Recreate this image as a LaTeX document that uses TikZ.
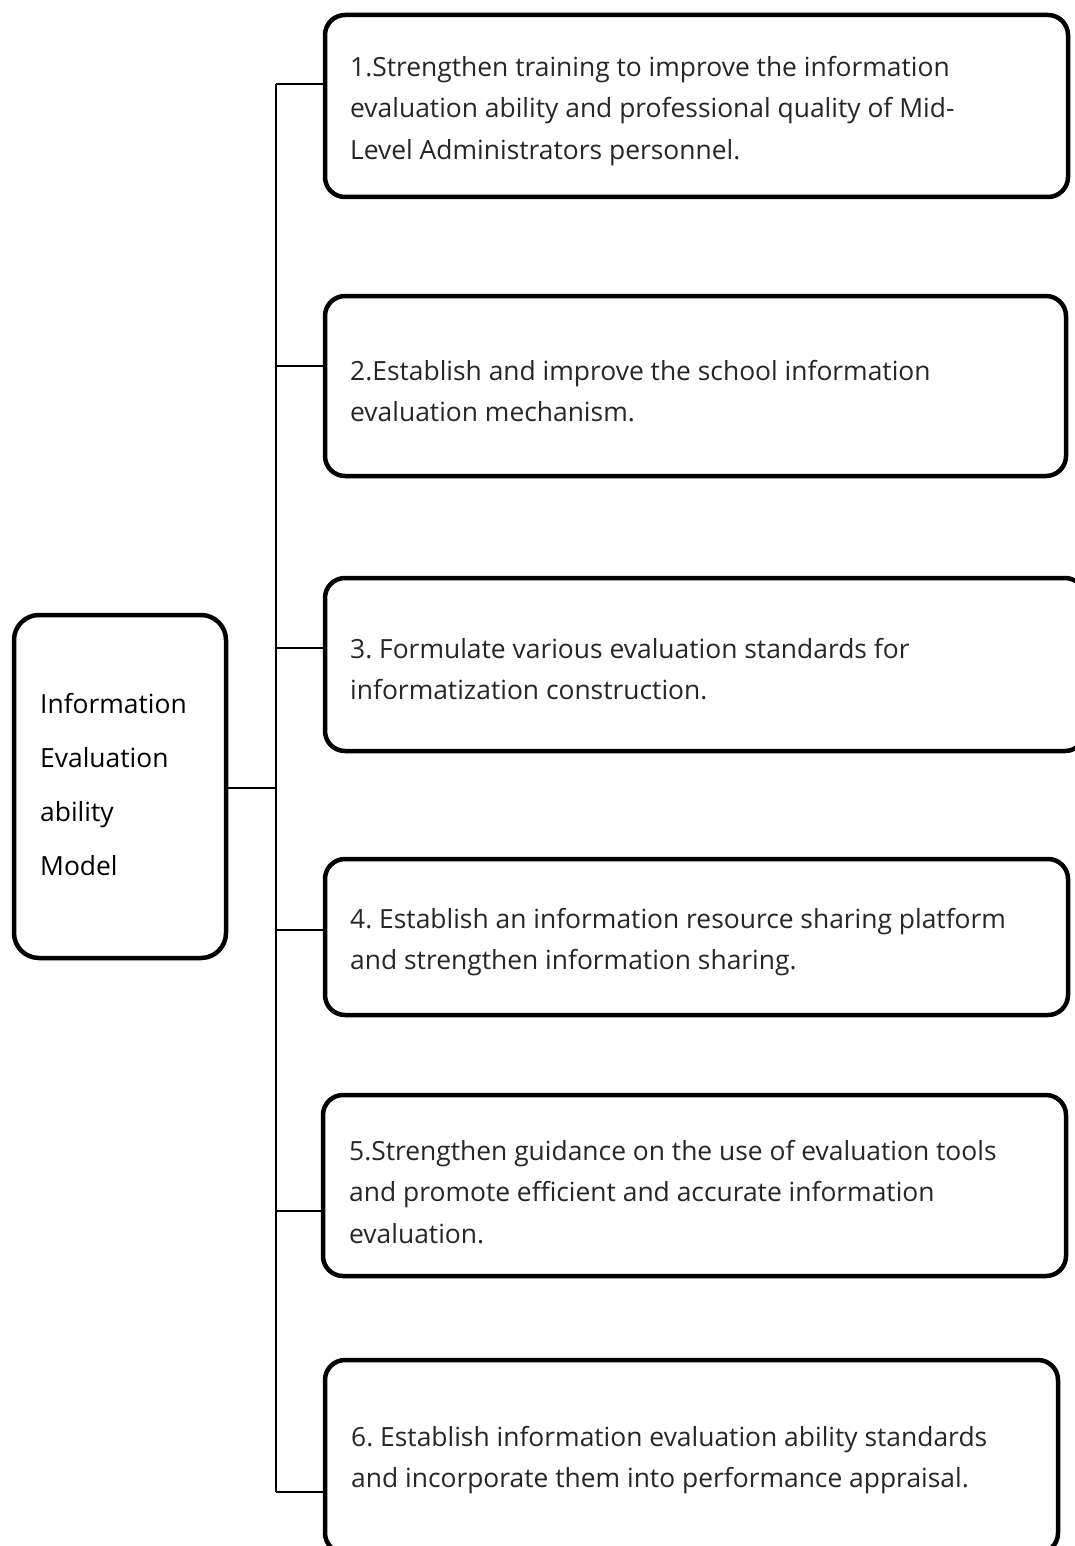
\documentclass[tikz,border=0pt]{standalone}
\usepackage{fontspec}
\setmainfont{Open Sans}
\frenchspacing
\begin{document}
\begin{tikzpicture}[x=1pt,y=-1pt,
  box/.style={draw, line width=4.5pt, rounded corners=20pt, anchor=north west, outer sep=0pt},
  txt/.style={anchor=west, align=left, inner sep=0pt, text=black!85,
    font=\fontsize{26.4}{41.5}\selectfont},
  conn/.style={line width=2.2pt}]
\useasboundingbox (0,0) rectangle (1075,1546);
\clip (0,0) rectangle (1075,1546);

\node[box, rounded corners=25pt, minimum width=212pt, minimum height=343pt] (L) at (14,615) {};
\node[txt, text=black, font=\fontsize{26.4}{54}\selectfont] (Lt) at (40,785)
  {Information\\Evaluation\\ability\\Model};

\node[box, minimum width=743pt, minimum height=182pt] (b1) at (325,15) {};
\node[box, minimum width=741pt, minimum height=180pt] (b2) at (325,296) {};
\node[box, minimum width=760pt, minimum height=173pt] (b3) at (325,578) {};
\node[box, minimum width=743pt, minimum height=156pt] (b4) at (325,859) {};
\node[box, minimum width=743pt, minimum height=181pt] (b5) at (323,1095) {};
\node[box, minimum width=733pt, minimum height=193pt] (b6) at (325,1360) {};

\node[txt] (x1) at (350,111)
  {1.Strengthen training to improve the information\\evaluation ability and professional quality of Mid-\\Level Administrators personnel.};
\node[txt] (x2) at (350,391)
  {2.Establish and improve the school information\\evaluation mechanism.};
\node[txt] (x3) at (350,669)
  {3. Formulate various evaluation standards for\\informatization construction.};
\node[txt] (x4) at (350,942)
  {4. Establish an information resource sharing platform\\and strengthen information sharing.};
\node[txt] (x5) at (349,1192)
  {5.Strengthen guidance on the use of evaluation tools\\and promote efficient and accurate information\\evaluation.};
\node[txt] (x6) at (351,1460)
  {6. Establish information evaluation ability standards\\and incorporate them into performance appraisal.};

\coordinate (t1) at (276,84);
\coordinate (t2) at (276,366);
\coordinate (t3) at (276,648);
\coordinate (t4) at (276,930);
\coordinate (t5) at (276,1211);
\coordinate (t6) at (276,1492);
\coordinate (tm) at (276,788);

\draw[conn] (t1) -- (t6);
\draw[conn] (L.east |- tm) -- (tm);
\draw[conn] (t1) -- (t1 -| b1.west);
\draw[conn] (t2) -- (t2 -| b2.west);
\draw[conn] (t3) -- (t3 -| b3.west);
\draw[conn] (t4) -- (t4 -| b4.west);
\draw[conn] (t5) -- (t5 -| b5.west);
\draw[conn] (t6) -- (t6 -| b6.west);
\end{tikzpicture}
\end{document}
